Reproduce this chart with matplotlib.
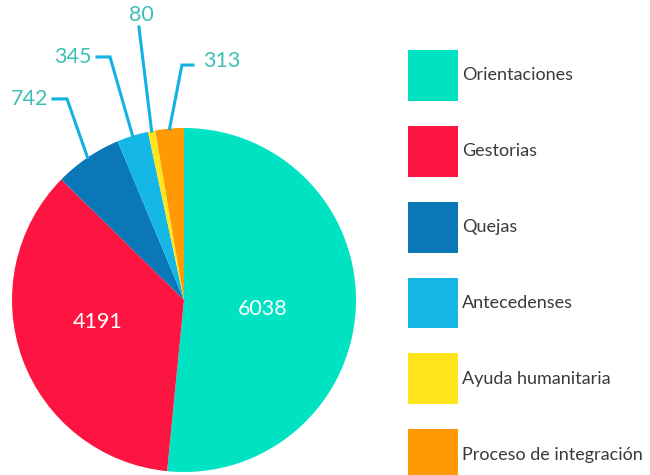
import numpy as np
import matplotlib.pyplot as plt
from matplotlib.lines import Line2D

# data
categorias = ['Orientaciones', 'Gestorias', 'Quejas', 'Antecedenses',
              'Ayuda humanitaria', 'Proceso de integración']
valores = [6038, 4191, 742, 345, 80, 313]
colores = ['#00e3c2', '#fb1540', '#0a78b6', '#14b7e6', '#ffe61c', '#ff9a05']

W, H = 650, 475
fig = plt.figure(figsize=(W / 100, H / 100), dpi=100)

# pie axes: centre (184, 300) px, radius 172 px
cx, cy, r = 184, 300, 172
ax = fig.add_axes([(cx - r) / W, (H - cy - r) / H, 2 * r / W, 2 * r / H])
wedges, _ = ax.pie(valores, colors=colores, startangle=90, counterclock=False,
                   radius=1.0, wedgeprops=dict(linewidth=0))
ax.set_xlim(-1, 1)
ax.set_ylim(-1, 1)
ax.set_aspect('equal')
ax.axis('off')

# labels inside the two big slices
inner = {0: (0.46, -0.05), 1: (-0.50, -0.13)}
for i, (x, y) in inner.items():
    ax.text(x, y, str(valores[i]), color='white', fontsize=15.5,
            family='Lato', ha='center', va='center')

# labels outside with elbow leader lines
label_color = '#3dbfb6'
line_color = '#12b2e3'
# (elbow point, line end, text position, ha)
outer = {
    2: ((-0.68, 1.169), (-0.762, 1.169), (-0.79, 1.169), 'right'),
    3: ((-0.43, 1.413), (-0.506, 1.413), (-0.535, 1.413), 'right'),
    4: (None, (-0.262, 1.587), (-0.25, 1.655), 'center'),
    5: ((-0.012, 1.366), (0.052, 1.366), (0.11, 1.39), 'left'),
}
for i, (elbow, end, txt, ha) in outer.items():
    w = wedges[i]
    ang = np.deg2rad((w.theta1 + w.theta2) / 2)
    ex, ey = np.cos(ang), np.sin(ang)
    pts = [(ex, ey)] + ([elbow] if elbow else []) + [end]
    xs, ys = zip(*pts)
    ax.add_line(Line2D(xs, ys, color=line_color, lw=2.2, clip_on=False,
                       solid_joinstyle='miter'))
    ax.text(txt[0], txt[1], str(valores[i]), color=label_color, fontsize=15.5,
            family='Lato', ha=ha, va='center', clip_on=False)

# legend with large square swatches (50 px, 75 px pitch)
fs = 13
px = fs * 100 / 72
fig.legend(wedges, categorias, loc='upper left',
           bbox_to_anchor=(408 / W, 1 - 50 / H), frameon=False,
           prop={'family': 'Lato', 'size': fs},
           handlelength=50 / px, handleheight=50 / px / 0.7,
           labelspacing=25 / px, handletextpad=4 / px,
           borderpad=0, borderaxespad=0, labelcolor='#3a3a3a')

fig.savefig('out.png', dpi=100, facecolor='white')
